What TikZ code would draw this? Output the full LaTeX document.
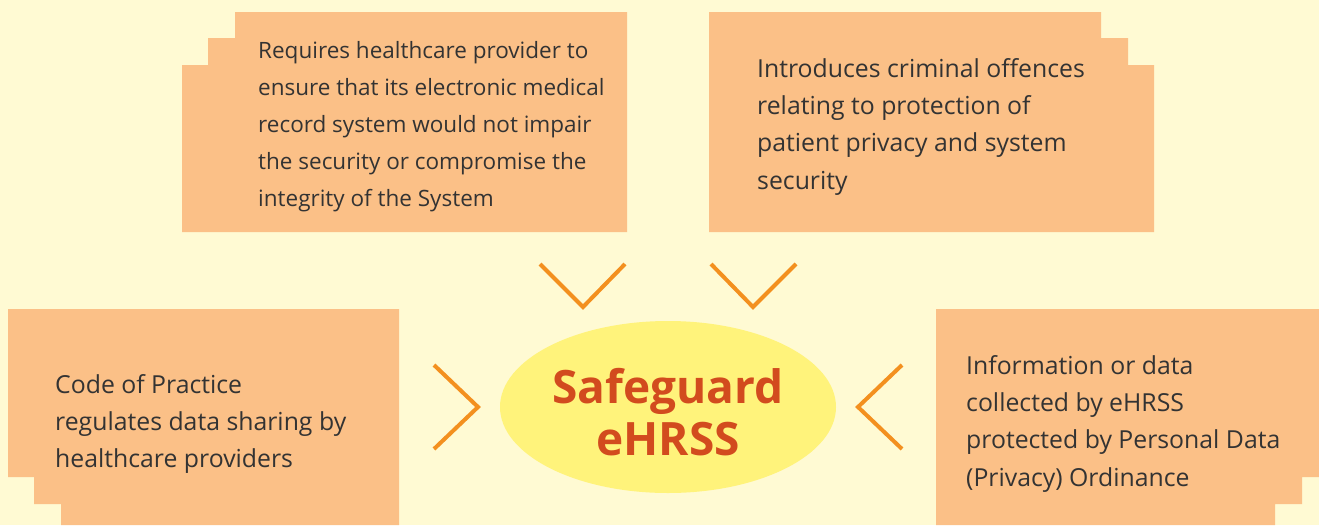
\documentclass[tikz,border=0pt]{standalone}
\usepackage{fontspec}
\setmainfont{Open Sans}
\usetikzlibrary{shapes.geometric}

\definecolor{bgyellow}{HTML}{FFFAD3}
\definecolor{boxorange}{HTML}{FBC087}
\definecolor{ovalyellow}{HTML}{FFF37B}
\definecolor{chevron}{HTML}{F3901F}
\definecolor{titlered}{HTML}{D24B1E}
\definecolor{textgray}{HTML}{333333}

\tikzset{
  panel/.style={fill=boxorange, draw=none},
  panetext/.style={anchor=base west, align=left, inner sep=0pt, text=textgray,
    font=\fontsize{24.8}{37.3}\selectfont},
  vee/.style={draw=chevron, line width=4pt, line cap=butt, line join=miter},
}

\begin{document}
\begin{tikzpicture}[x=1pt, y=-1pt]
          \fill [bgyellow] (0,0) rectangle (1319,525); % background
          \useasboundingbox (0,0) rectangle (1319,525);

          % top left panel
          \fill [panel] (235,12) -- (627,12) -- (627,232) -- (182,232) -- (182,65) -- (208,65) -- (208,38) -- (235,38) -- cycle;
          \node [panetext, font=\fontsize{22.5}{37}\selectfont] (ehr) at (258,206) {Requires healthcare provider to\\ensure that its electronic medical\\record system would not impair\\the security or compromise the\\integrity of the System};

          % top right panel
          \fill [panel] (709,12) -- (1101,12) -- (1101,38) -- (1128,38) -- (1128,65) -- (1154,65) -- (1154,232) -- (709,232) -- cycle;
          \node [panetext] (crime) at (757,189) {Introduces criminal offences\\relating to protection of\\patient privacy and system\\security};

          % bottom left panel
          \fill [panel] (8,309) -- (399,309) -- (399,525) -- (61,525) -- (61,504) -- (34,504) -- (34,477) -- (8,477) -- cycle;
          \node [panetext] (code) at (55,467.6) {Code of Practice\\regulates data sharing by\\healthcare providers};

          % bottom right panel
          \fill [panel] (936,309) -- (1319,309) -- (1319,477) -- (1302,477) -- (1302,504) -- (1275,504) -- (1275,525) -- (936,525) -- cycle;
          \node [panetext] (pdpo) at (966,486) {Information or data\\collected by eHRSS\\protected by Personal Data\\(Privacy) Ordinance};

          % centre oval
          \node [ellipse, fill=ovalyellow, minimum width=336pt, minimum height=172pt, inner sep=0pt] (safe) at (668,407) {};
          \node [align=center, text=titlered, font=\fontsize{46}{52}\selectfont\bfseries, inner sep=0pt, anchor=base] (title) at (668,455) {Safeguard\\eHRSS};

          % chevrons
          \draw [vee] (540,264) -- (583,307) -- (625,264);
          \draw [vee] (711,264) -- (753,307) -- (796,264);
          \draw [vee] (434,365) -- (478,407) -- (434,449);
          \draw [vee] (902,365) -- (858,407) -- (902,449);
        \end{tikzpicture}
\end{document}
